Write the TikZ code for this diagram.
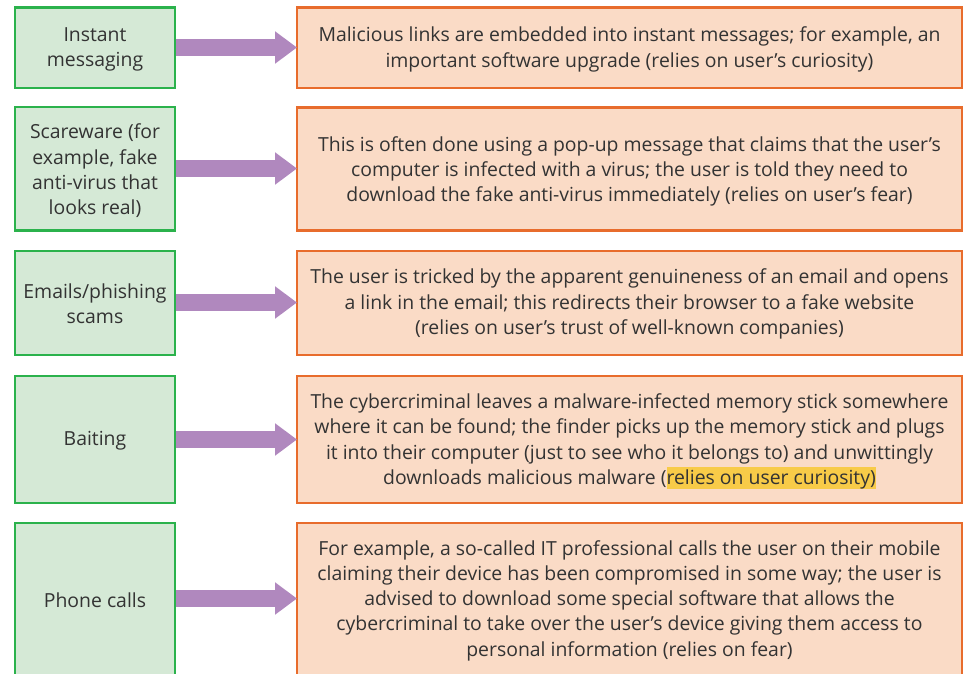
\documentclass[tikz,border=0pt]{standalone}
\usepackage{fontspec}
\setmainfont{Open Sans}
\usetikzlibrary{arrows.meta}
\definecolor{gfill}{HTML}{D5E9D6}
\definecolor{gline}{HTML}{2BB24C}
\definecolor{ofill}{HTML}{FADBC6}
\definecolor{oline}{HTML}{E86C2C}
\definecolor{arr}{HTML}{B088BE}
\definecolor{txt}{HTML}{333333}
\definecolor{hl}{HTML}{F8CB48}
\newcommand{\hlt}[1]{{\setlength{\fboxsep}{0pt}\colorbox{hl}{\rule[-5pt]{0pt}{22pt}#1}}}
\begin{document}
\begin{tikzpicture}[x=1pt,y=-1pt,
  every node/.style={text=txt, font=\fontsize{19.4}{25.3}\selectfont, align=center, inner sep=0pt},
  gbox/.style={draw=gline, fill=gfill, line width=2.8pt},
  obox/.style={draw=oline, fill=ofill, line width=2.3pt},
  conn/.style={draw=arr, line width=17pt, -{Triangle[length=22pt,width=31pt]}, shorten >=0pt}]
\useasboundingbox (0,0) rectangle (963,673);
\begin{scope}
\clip (0,0) rectangle (963,673);
% boxes
\path[gbox] (15,7.5) rectangle (175,88);
\path[obox] (297,7.5) rectangle (962,88);
\path[gbox] (15,107) rectangle (175,230.5);
\path[obox] (297,107.5) rectangle (962,230.5);
\path[gbox] (15,251) rectangle (175,355);
\path[obox] (297,251) rectangle (962,355);
\path[gbox] (15,376) rectangle (175,503);
\path[obox] (297,376) rectangle (962,503);
\path[gbox] (15,523) rectangle (175,690);
\path[obox] (297,523) rectangle (962,690);
\end{scope}
% text nodes
\node (g1) at (95,49.5) {Instant\\messaging};
\node (o1) at (629.5,49.5) {Malicious links are embedded into instant messages; for example, an\\important software upgrade (relies on user’s curiosity)};
\node (g2) at (95,171) {Scareware (for\\example, fake\\anti-virus that\\looks real)};
\node (o2) at (629.5,171.5) {This is often done using a pop-up message that claims that the user’s\\computer is infected with a virus; the user is told they need to\\download the fake anti-virus immediately (relies on user’s fear)};
\node (g3) at (95,304) {Emails/phishing\\scams};
\node (o3) at (629.5,304) {The user is tricked by the apparent genuineness of an email and opens\\a link in the email; this redirects their browser to a fake website\\(relies on user’s trust of well-known companies)};
\node (g4) at (95,441) {Baiting};
\node (o4) at (629.5,441.5) {The cybercriminal leaves a malware-infected memory stick somewhere\\where it can be found; the finder picks up the memory stick and plugs\\it into their computer (just to see who it belongs to) and unwittingly\\downloads malicious malware (\hlt{relies on user curiosity)}};
\node (g5) at (95,600) {Phone calls};
\node (o5) at (629.5,600.5) {For example, a so-called IT professional calls the user on their mobile\\claiming their device has been compromised in some way; the user is\\advised to download some special software that allows the\\cybercriminal to take over the user’s device giving them access to\\personal information (relies on fear)};
% connectors
\coordinate (a1s) at (176.4,47.5); \coordinate (a1e) at (297,47.5);
\coordinate (a2s) at (176.4,168.5); \coordinate (a2e) at (297,168.5);
\coordinate (a3s) at (176.4,302.5); \coordinate (a3e) at (297,302.5);
\coordinate (a4s) at (176.4,439.5); \coordinate (a4e) at (297,439.5);
\coordinate (a5s) at (176.4,598.5); \coordinate (a5e) at (297,598.5);
\foreach \i in {1,...,5} {\draw[conn] (a\i s) -- (a\i e);}
\end{tikzpicture}
\end{document}
